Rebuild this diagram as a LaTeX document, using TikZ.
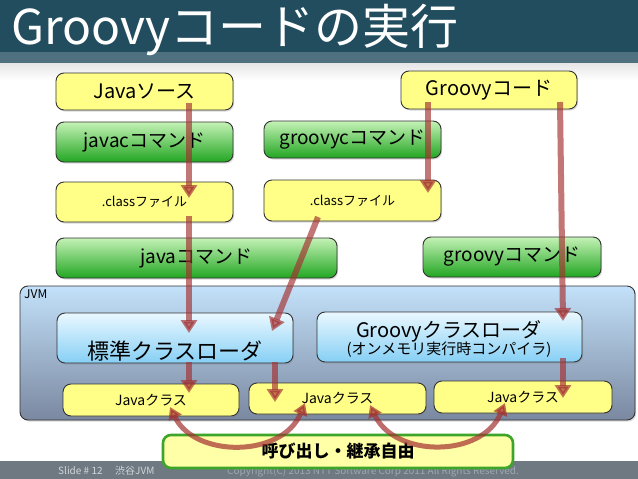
\documentclass[tikz,border=0pt]{standalone}
\usepackage{fontspec}
\setmainfont{Noto Sans CJK JP}
\usetikzlibrary{arrows.meta,shadows}
\definecolor{titlebg}{HTML}{224D5F}
\definecolor{titleband}{HTML}{4E707F}
\definecolor{footbg}{HTML}{6E7981}
\definecolor{foottxt}{HTML}{D2D6DA}
\definecolor{copytxt}{HTML}{9EA8B0}
\definecolor{boxline}{HTML}{333333}
\definecolor{boxyellow}{HTML}{FFFF88}
\definecolor{gtop}{HTML}{C4F2B6}
\definecolor{gmid}{HTML}{4CC44C}
\definecolor{gbot}{HTML}{22A622}
\definecolor{ltop}{HTML}{EAF8FF}
\definecolor{lbot}{HTML}{86CFF5}
\definecolor{jtop}{HTML}{C3E1FA}
\definecolor{jmid}{HTML}{B0CDEB}
\definecolor{jbot}{HTML}{7A88A0}
\definecolor{arrowc}{HTML}{A33030}
\definecolor{callfill}{HTML}{FFFFA8}
\definecolor{callline}{HTML}{3DA52A}
\begin{document}
\begin{tikzpicture}[x=1pt,y=-1pt,
  box/.style={draw=boxline, line width=0.9pt, rounded corners=8pt, inner sep=0pt,
    drop shadow={shadow xshift=1.2pt, shadow yshift=-1.5pt, opacity=0.3}},
  ybox/.style={box, fill=boxyellow},
  gbox/.style={box, top color=gtop, middle color=gmid, bottom color=gbot},
  lbox/.style={box, top color=ltop, bottom color=lbot},
  jvmbox/.style={box, top color=jtop, middle color=jmid, bottom color=jbot},
  callbox/.style={draw=callline, line width=2.6pt, rounded corners=8pt, fill=callfill, inner sep=0pt},
  fs/.style={font=\fontsize{#1pt}{#1pt}\selectfont},
  flow/.style={draw=arrowc, opacity=0.66, line width=6pt, -{Triangle[width=16pt,length=13pt]}},
  cflow/.style={draw=arrowc, opacity=0.7, line width=5pt,
    {Triangle[width=14pt,length=12pt]}-{Triangle[width=14pt,length=12pt]}}
]
\useasboundingbox (0,0) rectangle (638,479);
% background
\fill[white] (0,0) rectangle (638,479);
\shade[top color=black!10, bottom color=white] (0,63) rectangle (638,80);
\fill[titlebg] (0,0) rectangle (638,52);
\fill[titleband] (0,52) rectangle (638,63);
\node[anchor=base west, inner sep=0pt, text=white, fs=48] (title) at (11,44) {Groovyコードの実行};
% footer
\fill[footbg] (0,461) rectangle (638,479);
\node[anchor=base west, inner sep=0pt, text=foottxt, fs=10] (slide) at (58,474) {Slide \# 12};
\node[anchor=base west, inner sep=0pt, text=foottxt, fs=10] (group) at (115,474) {渋谷JVM};
\node[anchor=base west, inner sep=0pt, text=copytxt, fs=10] (copy) at (227,474) {Copyright(C) 2013 NTT Software Corp 2011 All Rights Reserved.};

% top boxes
\node[ybox, minimum width=177pt, minimum height=37pt, fs=20] (jsrc) at (144.5,91.5) {Javaソース};
\node[ybox, minimum width=176pt, minimum height=38pt, fs=20] (gcode) at (489,90) {Groovyコード};
\node[gbox, minimum width=177pt, minimum height=40pt, fs=19] (javac) at (144.5,142) {javacコマンド};
\node[gbox, minimum width=177pt, minimum height=37pt, fs=19] (groovyc) at (352.5,139.5) {groovycコマンド};
\node[ybox, minimum width=177pt, minimum height=40pt, fs=13] (clsL) at (144.5,202) {.classファイル};
\node[ybox, minimum width=177pt, minimum height=41pt, fs=13] (clsR) at (352.5,200.5) {.classファイル};
\node[gbox, minimum width=281pt, minimum height=40pt, fs=19] (javacmd) at (196.5,258) {javaコマンド};
\node[gbox, minimum width=178pt, minimum height=40pt, fs=19] (groovycmd) at (512,257) {groovyコマンド};

% JVM
\node[jvmbox, minimum width=615pt, minimum height=134pt] (jvm) at (327.5,353) {};
\node[anchor=north west, inner sep=0pt, fs=12] (jvmlbl) at (24,290) {JVM};
\node[lbox, minimum width=236pt, minimum height=50pt] (stdl) at (175,338) {};
\node[inner sep=0pt, fs=22] (stdltxt) at (175,351) {標準クラスローダ};
\node[lbox, minimum width=265pt, minimum height=50pt] (gl) at (449.5,337) {};
\node[inner sep=0pt, fs=20] (gltxt) at (449,331) {Groovyクラスローダ};
\node[inner sep=0pt, fs=15] (glsub) at (449,350) {(オンメモリ実行時コンパイラ)};
\node[ybox, minimum width=176pt, minimum height=32pt, fs=14] (jc1) at (151,400) {Javaクラス};
\node[ybox, minimum width=177pt, minimum height=31pt, fs=14] (jc2) at (337.5,398.5) {Javaクラス};
\node[ybox, minimum width=178pt, minimum height=32pt, fs=14] (jc3) at (523,397) {Javaクラス};

% call box
\node[callbox, minimum width=350pt, minimum height=33pt, font=\bfseries\fontsize{17pt}{17pt}\selectfont] (call) at (338,451.5) {呼び出し・継承自由};

% arrow coordinates
\coordinate (a1s) at (189,103); \coordinate (a1e) at (189,198);
\coordinate (a2s) at (189,216); \coordinate (a2e) at (189,333);
\coordinate (a3s) at (318,217); \coordinate (a3e) at (272,331);
\coordinate (a4s) at (428,102); \coordinate (a4e) at (428,193);
\coordinate (a5s) at (560,102); \coordinate (a5e) at (563,321);
\coordinate (a6s) at (189,362); \coordinate (a6e) at (189,393);
\coordinate (a7s) at (275,362); \coordinate (a7e) at (275,402);
\coordinate (a8s) at (563,358); \coordinate (a8e) at (563,398);
\coordinate (c1s) at (170,407); \coordinate (c1e) at (305,403);
\coordinate (c2s) at (370,405); \coordinate (c2e) at (505,403);

\draw[flow] (a1s) -- (a1e);
\draw[flow] (a2s) -- (a2e);
\draw[flow] (a3s) -- (a3e);
\draw[flow] (a4s) -- (a4e);
\draw[flow] (a5s) -- (a5e);
\draw[flow] (a6s) -- (a6e);
\draw[flow] (a7s) -- (a7e);
\draw[flow] (a8s) -- (a8e);
\draw[cflow] (c1s) .. controls (195,458) and (282,458) .. (c1e);
\draw[cflow] (c2s) .. controls (395,458) and (482,458) .. (c2e);
\end{tikzpicture}
\end{document}
